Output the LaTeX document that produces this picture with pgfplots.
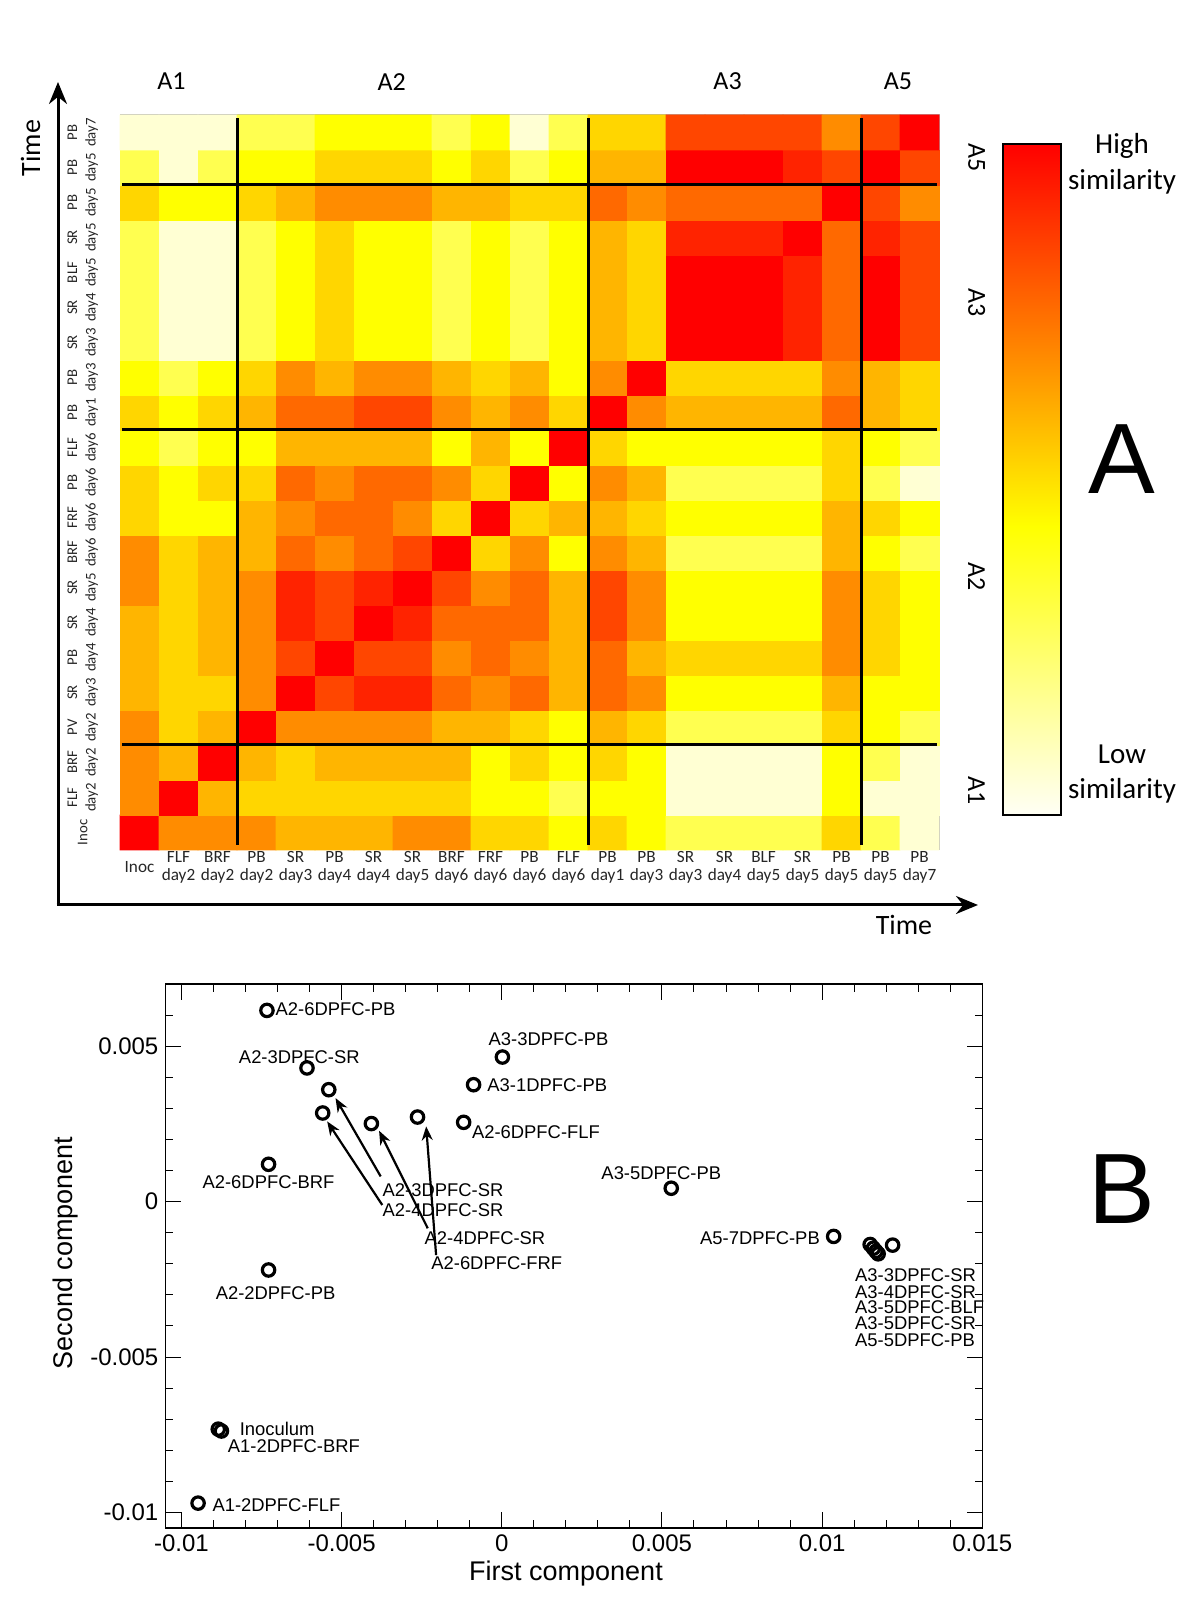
\documentclass[border=0pt]{standalone}
\usepackage{pgfplots}
\pgfplotsset{compat=1.18}
\usepackage{fontspec}
\setmainfont{Carlito}
\newfontfamily\arial{Liberation Sans}
\usetikzlibrary{arrows.meta}
\pgfplotsset{colormap={sim}{rgb255(0pt)=(255,255,245); rgb255(43pt)=(255,255,0); rgb255(68pt)=(255,140,0); rgb255(100pt)=(255,0,0)}}
\pgfdeclareverticalshading{simshade}{100bp}{rgb(0bp)=(1,1,0.961); rgb(25bp)=(1,1,0.961); rgb(46.5bp)=(1,1,0); rgb(59bp)=(1,0.549,0); rgb(75bp)=(1,0,0); rgb(100bp)=(1,0,0)}
\begin{document}
\begin{tikzpicture}[x=1pt,y=1pt,
  lab/.style={inner sep=0pt, font=\arial\fontsize{9.2}{9}\selectfont}]
\useasboundingbox (0,0) rectangle (600,800);

% time arrows
\draw[line width=1.5pt,-{Stealth[length=11pt,width=9pt]}] (29,347.5) -- (29,759);
\draw[line width=1.5pt,-{Stealth[length=11pt,width=9pt]}] (28.25,347.5) -- (489,347.5);
\node[rotate=90, font=\fontsize{14}{14}\selectfont] at (15.3,726) {Time};
\node[font=\fontsize{14}{14}\selectfont] at (452,337.7) {Time};

% group labels
\node[font=\fontsize{13}{13}\selectfont] at (85.7,759.2) {A1};
\node[font=\fontsize{13}{13}\selectfont] at (195.9,759.2) {A2};
\node[font=\fontsize{13}{13}\selectfont] at (363.8,759.2) {A3};
\node[font=\fontsize{13}{13}\selectfont] at (449,759.2) {A5};
\node[rotate=-90, font=\fontsize{13}{13}\selectfont] at (488.3,721) {A5};
\node[rotate=-90, font=\fontsize{13}{13}\selectfont] at (488.3,648.5) {A3};
\node[rotate=-90, font=\fontsize{13}{13}\selectfont] at (488.3,511.7) {A2};
\node[rotate=-90, font=\fontsize{13}{13}\selectfont] at (488.3,404.5) {A1};

% colour scale
\shade[shading=simshade] (501.5,392.5) rectangle (530.5,728);
\draw[line width=1.1pt] (501.5,392.5) rectangle (530.5,728);
\node[align=center, font=\fontsize{14.5}{17.8}\selectfont] at (561,718) {High\\similarity};
\node[align=center, font=\fontsize{14.5}{17.8}\selectfont] at (561,413) {Low\\similarity};
\node[font=\arial\fontsize{50}{50}\selectfont] at (561,570.5) {A};
\node[font=\arial\fontsize{50}{50}\selectfont] at (561,205.5) {B};

\begin{axis}[
  name=hm,
  at={(60pt,375pt)}, anchor=south west,
  scale only axis, width=409.5pt, height=367.5pt,
  xmin=-0.5, xmax=20.5, ymin=-0.5, ymax=20.5,
  enlargelimits=false, clip=false,
  axis line style={gray!60, line width=0.5pt},
  tick style={draw=none}, major tick length=0pt,
  xtick={0,...,20}, ytick={0,...,20},
  xticklabels={Inoc,{FLF\\day2},{BRF\\day2},{PB\\day2},{SR\\day3},{PB\\day4},{SR\\day4},{SR\\day5},{BRF\\day6},{FRF\\day6},{PB\\day6},{FLF\\day6},{PB\\day1},{PB\\day3},{SR\\day3},{SR\\day4},{BLF\\day5},{SR\\day5},{PB\\day5},{PB\\day5},{PB\\day7}},
  yticklabels={Inoc,{FLF\\day2},{BRF\\day2},{PV\\day2},{SR\\day3},{PB\\day4},{SR\\day4},{SR\\day5},{BRF\\day6},{FRF\\day6},{PB\\day6},{FLF\\day6},{PB\\day1},{PB\\day3},{SR\\day3},{SR\\day4},{BLF\\day5},{SR\\day5},{PB\\day5},{PB\\day5},{PB\\day7}},
  xticklabel style={anchor=center, yshift=-8.7pt, align=center, font=\fontsize{8.6}{9.3}\selectfont, text=black!85},
  yticklabel style={xshift=-18.6pt, rotate=90, anchor=center, align=center, font=\fontsize{7.4}{9.2}\selectfont, text=black!85},
  colormap name=sim,
  point meta min=0, point meta max=100,
]
\addplot[matrix plot*, mesh/cols=21, mesh/rows=21, point meta=explicit] table[row sep=\\, x=c, y=r, meta=v] {
c r v\\
0 0 100\\1 0 68\\2 0 68\\3 0 68\\4 0 59\\5 0 59\\6 0 59\\7 0 68\\8 0 68\\9 0 52\\10 0 52\\11 0 43\\12 0 52\\13 0 43\\14 0 29\\15 0 29\\16 0 29\\17 0 29\\18 0 52\\19 0 29\\20 0 6\\
0 1 68\\1 1 100\\2 1 59\\3 1 52\\4 1 52\\5 1 52\\6 1 52\\7 1 52\\8 1 52\\9 1 43\\10 1 43\\11 1 29\\12 1 43\\13 1 43\\14 1 6\\15 1 6\\16 1 6\\17 1 6\\18 1 43\\19 1 6\\20 1 6\\
0 2 68\\1 2 59\\2 2 100\\3 2 59\\4 2 52\\5 2 59\\6 2 59\\7 2 59\\8 2 59\\9 2 43\\10 2 52\\11 2 43\\12 2 52\\13 2 43\\14 2 6\\15 2 6\\16 2 6\\17 2 6\\18 2 43\\19 2 29\\20 2 6\\
0 3 68\\1 3 52\\2 3 59\\3 3 100\\4 3 68\\5 3 68\\6 3 68\\7 3 68\\8 3 59\\9 3 59\\10 3 52\\11 3 43\\12 3 59\\13 3 52\\14 3 29\\15 3 29\\16 3 29\\17 3 29\\18 3 52\\19 3 43\\20 3 29\\
0 4 59\\1 4 52\\2 4 52\\3 4 68\\4 4 100\\5 4 84\\6 4 92\\7 4 92\\8 4 76\\9 4 68\\10 4 76\\11 4 59\\12 4 76\\13 4 68\\14 4 43\\15 4 43\\16 4 43\\17 4 43\\18 4 59\\19 4 43\\20 4 43\\
0 5 59\\1 5 52\\2 5 59\\3 5 68\\4 5 84\\5 5 100\\6 5 84\\7 5 84\\8 5 68\\9 5 76\\10 5 68\\11 5 59\\12 5 76\\13 5 59\\14 5 52\\15 5 52\\16 5 52\\17 5 52\\18 5 68\\19 5 52\\20 5 43\\
0 6 59\\1 6 52\\2 6 59\\3 6 68\\4 6 92\\5 6 84\\6 6 100\\7 6 92\\8 6 76\\9 6 76\\10 6 76\\11 6 59\\12 6 84\\13 6 68\\14 6 43\\15 6 43\\16 6 43\\17 6 43\\18 6 68\\19 6 52\\20 6 43\\
0 7 68\\1 7 52\\2 7 59\\3 7 68\\4 7 92\\5 7 84\\6 7 92\\7 7 100\\8 7 84\\9 7 68\\10 7 76\\11 7 59\\12 7 84\\13 7 68\\14 7 43\\15 7 43\\16 7 43\\17 7 43\\18 7 68\\19 7 52\\20 7 43\\
0 8 68\\1 8 52\\2 8 59\\3 8 59\\4 8 76\\5 8 68\\6 8 76\\7 8 84\\8 8 100\\9 8 52\\10 8 68\\11 8 43\\12 8 68\\13 8 59\\14 8 29\\15 8 29\\16 8 29\\17 8 29\\18 8 59\\19 8 43\\20 8 29\\
0 9 52\\1 9 43\\2 9 43\\3 9 59\\4 9 68\\5 9 76\\6 9 76\\7 9 68\\8 9 52\\9 9 100\\10 9 52\\11 9 59\\12 9 59\\13 9 52\\14 9 43\\15 9 43\\16 9 43\\17 9 43\\18 9 59\\19 9 52\\20 9 43\\
0 10 52\\1 10 43\\2 10 52\\3 10 52\\4 10 76\\5 10 68\\6 10 76\\7 10 76\\8 10 68\\9 10 52\\10 10 100\\11 10 43\\12 10 68\\13 10 59\\14 10 29\\15 10 29\\16 10 29\\17 10 29\\18 10 52\\19 10 29\\20 10 6\\
0 11 43\\1 11 29\\2 11 43\\3 11 43\\4 11 59\\5 11 59\\6 11 59\\7 11 59\\8 11 43\\9 11 59\\10 11 43\\11 11 100\\12 11 52\\13 11 43\\14 11 43\\15 11 43\\16 11 43\\17 11 43\\18 11 52\\19 11 43\\20 11 29\\
0 12 52\\1 12 43\\2 12 52\\3 12 59\\4 12 76\\5 12 76\\6 12 84\\7 12 84\\8 12 68\\9 12 59\\10 12 68\\11 12 52\\12 12 100\\13 12 68\\14 12 59\\15 12 59\\16 12 59\\17 12 59\\18 12 76\\19 12 59\\20 12 52\\
0 13 43\\1 13 29\\2 13 43\\3 13 52\\4 13 68\\5 13 59\\6 13 68\\7 13 68\\8 13 59\\9 13 52\\10 13 59\\11 13 43\\12 13 68\\13 13 100\\14 13 52\\15 13 52\\16 13 52\\17 13 52\\18 13 68\\19 13 59\\20 13 52\\
0 14 29\\1 14 6\\2 14 6\\3 14 29\\4 14 43\\5 14 52\\6 14 43\\7 14 43\\8 14 29\\9 14 43\\10 14 29\\11 14 43\\12 14 59\\13 14 52\\14 14 100\\15 14 100\\16 14 100\\17 14 92\\18 14 76\\19 14 100\\20 14 84\\
0 15 29\\1 15 6\\2 15 6\\3 15 29\\4 15 43\\5 15 52\\6 15 43\\7 15 43\\8 15 29\\9 15 43\\10 15 29\\11 15 43\\12 15 59\\13 15 52\\14 15 100\\15 15 100\\16 15 100\\17 15 92\\18 15 76\\19 15 100\\20 15 84\\
0 16 29\\1 16 6\\2 16 6\\3 16 29\\4 16 43\\5 16 52\\6 16 43\\7 16 43\\8 16 29\\9 16 43\\10 16 29\\11 16 43\\12 16 59\\13 16 52\\14 16 100\\15 16 100\\16 16 100\\17 16 92\\18 16 76\\19 16 100\\20 16 84\\
0 17 29\\1 17 6\\2 17 6\\3 17 29\\4 17 43\\5 17 52\\6 17 43\\7 17 43\\8 17 29\\9 17 43\\10 17 29\\11 17 43\\12 17 59\\13 17 52\\14 17 92\\15 17 92\\16 17 92\\17 17 100\\18 17 76\\19 17 92\\20 17 84\\
0 18 52\\1 18 43\\2 18 43\\3 18 52\\4 18 59\\5 18 68\\6 18 68\\7 18 68\\8 18 59\\9 18 59\\10 18 52\\11 18 52\\12 18 76\\13 18 68\\14 18 76\\15 18 76\\16 18 76\\17 18 76\\18 18 100\\19 18 84\\20 18 68\\
0 19 29\\1 19 6\\2 19 29\\3 19 43\\4 19 43\\5 19 52\\6 19 52\\7 19 52\\8 19 43\\9 19 52\\10 19 29\\11 19 43\\12 19 59\\13 19 59\\14 19 100\\15 19 100\\16 19 100\\17 19 92\\18 19 84\\19 19 100\\20 19 84\\
0 20 6\\1 20 6\\2 20 6\\3 20 29\\4 20 29\\5 20 43\\6 20 43\\7 20 43\\8 20 29\\9 20 43\\10 20 6\\11 20 29\\12 20 52\\13 20 52\\14 20 84\\15 20 84\\16 20 84\\17 20 84\\18 20 68\\19 20 84\\20 20 100\\
};
\draw[line width=1.5pt] (axis cs:2.5,-0.35) -- (axis cs:2.5,20.4);
\draw[line width=1.5pt] (axis cs:11.5,-0.35) -- (axis cs:11.5,20.4);
\draw[line width=1.5pt] (axis cs:18.5,-0.35) -- (axis cs:18.5,20.4);
\draw[line width=1.5pt] (axis cs:-0.45,2.5) -- (axis cs:20.45,2.5);
\draw[line width=1.5pt] (axis cs:-0.45,11.5) -- (axis cs:20.45,11.5);
\draw[line width=1.5pt] (axis cs:-0.45,18.5) -- (axis cs:20.45,18.5);
\end{axis}

\begin{axis}[
  at={(82.7pt,36pt)}, anchor=south west,
  scale only axis, width=408.6pt, height=272pt,
  xmin=-0.0105, xmax=0.01501, ymin=-0.0105, ymax=0.007,
  clip=false,
  axis line style={line width=0.6pt},
  tick align=inside, major tick length=8pt, minor tick length=4pt,
  tick style={line width=0.5pt, black},
  xtick={-0.01,-0.005,0,0.005,0.01,0.015},
  xticklabels={-0.01,-0.005,0,0.005,0.01,0.015},
  ytick={-0.01,-0.005,0,0.005},
  yticklabels={-0.01,-0.005,0,0.005},
  minor xtick={-0.009,-0.008,-0.007,-0.006,-0.004,-0.003,-0.002,-0.001,0.001,0.002,0.003,0.004,0.006,0.007,0.008,0.009,0.011,0.012,0.013,0.014},
  minor ytick={-0.009,-0.008,-0.007,-0.006,-0.004,-0.003,-0.002,-0.001,0.001,0.002,0.003,0.004,0.006},
  scaled ticks=false,
  ticklabel style={font=\arial\fontsize{12}{12}\selectfont},
]
\addplot[only marks, mark=o, mark size=3.1pt, line width=1.6pt, black] table {
x y
-0.00733 0.00615
-0.00608 0.00430
-0.00540 0.00360
-0.00559 0.00285
-0.00407 0.00251
-0.00263 0.00272
-0.00119 0.00255
-0.00088 0.00376
0.00002 0.00465
-0.00728 0.00120
-0.00728 -0.00220
0.00529 0.00043
0.01036 -0.00112
0.01150 -0.00138
0.01160 -0.00150
0.01168 -0.00160
0.01175 -0.00168
0.01220 -0.00140
-0.00885 -0.00732
-0.00875 -0.00738
-0.00948 -0.00970
};
\node[lab, anchor=west] at (axis cs:-0.00707,0.00618) {A2-6DPFC-PB};
\node[lab] at (axis cs:-0.00632,0.00465) {A2-3DPFC-SR};
\node[lab] at (axis cs:0.00146,0.00522) {A3-3DPFC-PB};
\node[lab, anchor=west] at (axis cs:-0.00046,0.00376) {A3-1DPFC-PB};
\node[lab, anchor=west] at (axis cs:-0.00094,0.00224) {A2-6DPFC-FLF};
\node[lab] at (axis cs:-0.00728,0.00062) {A2-6DPFC-BRF};
\node[lab, anchor=west] at (axis cs:-0.00373,0.00038) {A2-3DPFC-SR};
\node[lab, anchor=west] at (axis cs:-0.00373,-0.00027) {A2-4DPFC-SR};
\node[lab, anchor=west] at (axis cs:-0.00242,-0.00118) {A2-4DPFC-SR};
\node[lab, anchor=west] at (axis cs:-0.00221,-0.00199) {A2-6DPFC-FRF};
\node[lab] at (axis cs:-0.00706,-0.00293) {A2-2DPFC-PB};
\node[lab] at (axis cs:0.00498,0.00091) {A3-5DPFC-PB};
\node[lab, anchor=east] at (axis cs:0.00994,-0.00118) {A5-7DPFC-PB};
\node[lab, anchor=west] at (axis cs:0.01102,-0.00237) {A3-3DPFC-SR};
\node[lab, anchor=west] at (axis cs:0.01102,-0.00290) {A3-4DPFC-SR};
\node[lab, anchor=west] at (axis cs:0.01102,-0.00339) {A3-5DPFC-BLF};
\node[lab, anchor=west] at (axis cs:0.01102,-0.00392) {A3-5DPFC-SR};
\node[lab, anchor=west] at (axis cs:0.01102,-0.00445) {A5-5DPFC-PB};
\node[lab, anchor=west] at (axis cs:-0.00819,-0.00731) {Inoculum};
\node[lab, anchor=west] at (axis cs:-0.00856,-0.00787) {A1-2DPFC-BRF};
\node[lab, anchor=west] at (axis cs:-0.00904,-0.00978) {A1-2DPFC-FLF};
\draw[line width=1.1pt,-{Stealth[length=7pt,width=5.5pt]}] (axis cs:-0.00378,0.00081) -- (axis cs:-0.00519,0.00333);
\draw[line width=1.1pt,-{Stealth[length=7pt,width=5.5pt]}] (axis cs:-0.00373,-0.00011) -- (axis cs:-0.00545,0.00258);
\draw[line width=1.1pt,-{Stealth[length=7pt,width=5.5pt]}] (axis cs:-0.00231,-0.00086) -- (axis cs:-0.00383,0.00228);
\draw[line width=1.1pt,-{Stealth[length=7pt,width=5.5pt]}] (axis cs:-0.00205,-0.00172) -- (axis cs:-0.00236,0.00242);
\end{axis}
\node[font=\arial\fontsize{13.5}{13.5}\selectfont] at (283,13.2) {First component};
\node[rotate=90, font=\arial\fontsize{13.5}{13.5}\selectfont] at (33,173.5) {Second component};
\end{tikzpicture}
\end{document}
